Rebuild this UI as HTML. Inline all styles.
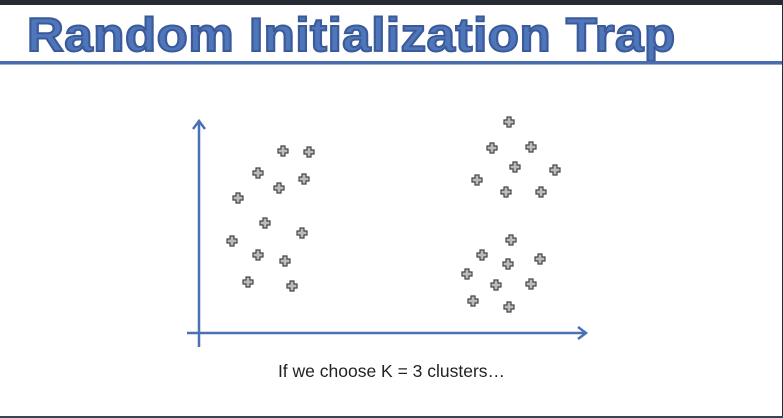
<html><head><style>
body{margin:0;width:783px;height:418px;background:#fff;position:relative;overflow:hidden;font-family:"Liberation Sans",sans-serif}
</style></head><body>
<div style="position:absolute;left:0;top:0;width:783px;height:5px;background:#262a33"></div>
<div style="position:absolute;right:0;top:0;width:1px;height:418px;background:#2a2f3a"></div>
<div style="position:absolute;left:0;bottom:0;width:783px;height:2px;background:#3a4458"></div>
<div style="position:absolute;left:27px;top:7px;font-size:47px;font-weight:bold;color:#4f76bb;-webkit-text-stroke:2px #3a5a99;letter-spacing:0.5px;white-space:nowrap;transform:scaleX(1.085);transform-origin:left">Random Initialization Trap</div>
<div style="position:absolute;left:0;top:61px;width:782px;height:3px;background:#4a6cae"></div>
<div style="position:absolute;left:0;top:64px;width:782px;height:1px;background:#9fb0d3"></div>
<svg width="783" height="418" style="position:absolute;left:0;top:0">
<defs><g id="p"><path d="M-2,-5H2V-2H5V2H2V5H-2V2H-5V-2H-2Z" fill="#bbb" stroke="#444" stroke-width="1.2"/></g></defs>
<g stroke="#4a70b6" stroke-width="2.5" fill="none">
<line x1="199" y1="122" x2="199" y2="347"/>
<line x1="187" y1="333" x2="585" y2="333"/>
<polyline points="193,129 199,121 205,129"/>
<polyline points="578,327 586,333 578,339"/>
</g>
<g>
<use href="#p" x="283" y="151"/><use href="#p" x="309" y="152"/><use href="#p" x="258" y="173"/><use href="#p" x="304" y="179"/><use href="#p" x="279" y="188"/><use href="#p" x="238" y="198"/><use href="#p" x="265" y="223"/><use href="#p" x="302" y="233"/><use href="#p" x="232" y="241"/><use href="#p" x="258" y="255"/><use href="#p" x="285" y="261"/><use href="#p" x="248" y="282"/><use href="#p" x="292" y="286"/>
<use href="#p" x="509" y="122"/><use href="#p" x="492" y="148"/><use href="#p" x="531" y="147"/><use href="#p" x="515" y="167"/><use href="#p" x="555" y="170"/><use href="#p" x="477" y="180"/><use href="#p" x="506" y="192"/><use href="#p" x="541" y="192"/><use href="#p" x="511" y="240"/><use href="#p" x="482" y="255"/><use href="#p" x="508" y="264"/><use href="#p" x="540" y="259"/><use href="#p" x="467" y="274"/><use href="#p" x="496" y="285"/><use href="#p" x="531" y="284"/><use href="#p" x="473" y="301"/><use href="#p" x="509" y="307"/>
</g>
</svg>
<div style="position:absolute;left:0;width:783px;top:361px;text-align:center;font-size:17.5px;color:#222">If we choose K = 3 clusters…</div>
</body></html>
